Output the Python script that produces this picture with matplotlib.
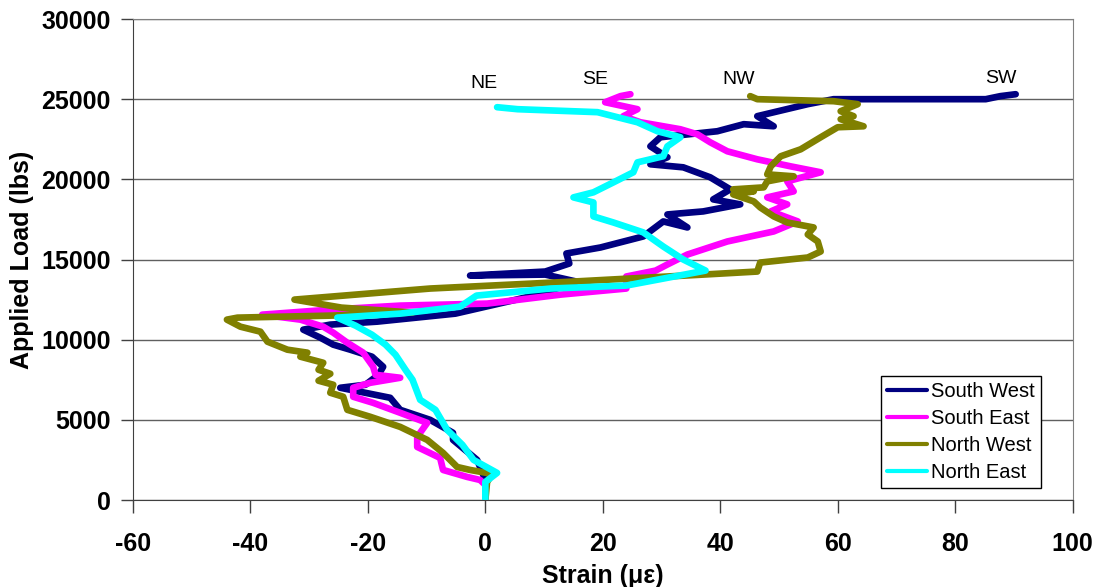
import matplotlib.pyplot as plt

plt.rcParams['font.family'] = ['Liberation Sans', 'DejaVu Sans']
plt.rcParams['axes.unicode_minus'] = False

# strain (microstrain) vs applied load (lbs) for each gauge
sw_strain = [0, 0, -1.4, -5.5, -5.5, -9.4, -14.5, -16.2, -24.7, -20.4, -18.2, -17.4, -19.3,
             -23.0, -25.9, -28.1, -31.0, -26.4, -18.4, -5.1, 5.3, 10.2, 15.5, 10.2, -2.6,
             10.2, 14.3, 13.8, 19.6, 26.9, 30.3, 34.4, 31.0, 37.1, 43.4, 38.8, 41.7, 38.3,
             33.7, 28.1, 31.0, 28.1, 29.8, 39.5, 44.0, 49.1, 46.3, 54.9, 59.3, 85.2, 87.7, 90.3]
sw_load = [0, 1250, 2500, 3750, 4190, 5000, 5625, 6375, 7000, 7190, 7810, 8310, 8940,
           9375, 9690, 10125, 10625, 10940, 11125, 11625, 12500, 12940, 13625, 14060, 14000,
           14250, 14750, 15375, 15750, 16440, 17375, 17000, 17810, 18000, 18440, 18750, 19375, 20125,
           20750, 20940, 21375, 22060, 22625, 23000, 23440, 23310, 23940, 24690, 25000, 25000, 25190, 25310]

se_strain = [0, 0, -0.9, -3.1, -7.2, -7.7, -11.6, -11.6, -9.9, -14.5, -19.1, -22.5, -22.5,
             -19.6, -14.5, -18.7, -19.1, -20.8, -23.5, -25.9, -27.6, -31.5, -38.0, -26.4, -14.5,
             0.3, 12.8, 24.0, 24.0, 29.0, 31.0, 34.4, 41.2, 49.1, 53.2, 48.6, 51.4, 48.0, 52.5,
             51.4, 57.1, 52.0, 46.3, 41.2, 38.3, 36.1, 33.2, 26.4, 23.5, 25.9, 20.4, 23.0, 24.7]
se_load = [0, 940, 1250, 1440, 1875, 2625, 3310, 3940, 4810, 5440, 6060, 6440, 7000,
           7310, 7625, 7810, 8310, 9190, 9810, 10440, 10810, 11250, 11560, 11875, 12125,
           12250, 12810, 13190, 13940, 14310, 14690, 15310, 16125, 16750, 17375, 18000, 18440, 18875, 19250,
           19875, 20440, 20810, 21250, 21750, 22310, 22810, 23125, 23560, 23940, 24375, 24810, 25190, 25310]

nw_strain = [0, 0.3, 1.2, -2.6, -4.8, -7.2, -9.9, -14.5, -19.6, -23.5, -24.2, -26.4, -25.9,
             -28.4, -26.4, -28.4, -27.6, -31.5, -30.3, -33.7, -37.1, -38.3, -41.7, -44.0, -42.2,
             -26.4, -12.4, -24.5, -32.5, -9.4, 15.0, 37.1, 46.3, 46.8, 54.9, 57.1, 56.6, 54.9,
             55.9, 51.4, 49.1, 46.8, 45.7, 42.2, 45.7, 42.2, 47.4, 48.0, 52.5, 48.0, 48.6, 50.3,
             53.7, 57.1, 60.0, 64.4, 60.5, 62.7, 60.5, 63.4, 59.3, 46.3, 45.1]
nw_load = [0, 1125, 1625, 1875, 2060, 2940, 3750, 4560, 5190, 5625, 6440, 6690, 7190,
           7440, 7875, 8125, 8560, 8940, 9190, 9375, 9875, 10500, 10810, 11250, 11375,
           11500, 11690, 12000, 12500, 13190, 13625, 14060, 14250, 14810, 15125, 15500, 16125, 16560,
           17000, 17310, 17690, 18250, 18625, 19060, 19250, 19375, 19500, 19875, 20190, 20310, 20810, 21440,
           21875, 22625, 23250, 23310, 23750, 23940, 24250, 24690, 24875, 25000, 25190]

ne_strain = [0, 0, 2.0, -2.0, -3.9, -6.5, -8.5, -11.1, -12.4, -13.6, -15.3, -17.0, -19.3,
             -22.1, -25.2, -14.5, -4.3, -1.5, 11.1, 24.0, 37.5, 33.7, 30.3, 26.9, 21.8, 18.4,
             18.4, 15.0, 18.4, 21.8, 25.2, 25.9, 30.3, 31.0, 33.2, 29.3, 25.9, 19.1, 5.5, 2.0]
ne_load = [0, 1125, 1690, 2500, 3440, 4375, 5625, 6250, 7500, 8125, 9060, 9690, 10310,
           10875, 11375, 11625, 12060, 12750, 13190, 13375, 14310, 15000, 15810, 16690, 17310, 17690,
           18560, 18875, 19190, 19810, 20440, 21060, 21440, 22060, 22625, 23000, 23560, 24190, 24375, 24500]

series_names = ['South West', 'South East', 'North West', 'North East']
series_colors = ['#000080', '#FF00FF', '#808000', '#00FFFF']

tags = ['NE', 'SE', 'NW', 'SW']
tag_x = [-0.3, 18.7, 43.2, 87.7]
tag_y = [25950, 26250, 26250, 26300]

fig = plt.figure(figsize=(10.97, 5.87), dpi=100)
ax = fig.add_axes([0.1212, 0.1482, 0.8566, 0.8194])

curves = [(sw_strain, sw_load), (se_strain, se_load), (nw_strain, nw_load), (ne_strain, ne_load)]
for (xs, ys), name, col in zip(curves, series_names, series_colors):
    ax.plot(xs, ys, color=col, lw=4.8, label=name, solid_joinstyle='round', solid_capstyle='round')

for t, x, y in zip(tags, tag_x, tag_y):
    ax.text(x, y, t, ha='center', va='center', fontsize=14)

ax.set_xlim(-60, 100)
ax.set_ylim(0, 30000)
ax.set_xticks(range(-60, 101, 20))
ax.set_yticks(range(0, 30001, 5000))
ax.yaxis.grid(True, color='#606060', lw=1)
ax.set_axisbelow(True)
for s in ax.spines.values():
    s.set_color('#808080')
ax.spines['left'].set_color('#404040')
ax.spines['bottom'].set_color('#404040')

ax.tick_params(axis='both', direction='out', length=9, width=1, color='#404040',
               labelsize=18)
ax.tick_params(axis='x', pad=14)
ax.tick_params(axis='y', pad=7)
for lab in ax.get_xticklabels() + ax.get_yticklabels():
    lab.set_fontweight('bold')

ax.set_xlabel('Strain (\u03bc\u03b5)', fontsize=18, fontweight='bold', labelpad=6)
ax.set_ylabel('Applied Load (lbs)', fontsize=18, fontweight='bold', labelpad=5)

leg = ax.legend(loc='lower right', bbox_to_anchor=(0.966, 0.025), fontsize=14.5,
                frameon=True, fancybox=False, framealpha=1, edgecolor='black',
                handlelength=2.0, handletextpad=0.2, labelspacing=0.4,
                borderpad=0.3, borderaxespad=0)
leg.get_frame().set_linewidth(1)
for h in leg.get_lines():
    h.set_linewidth(3)

fig.savefig('out.png', dpi=100)
